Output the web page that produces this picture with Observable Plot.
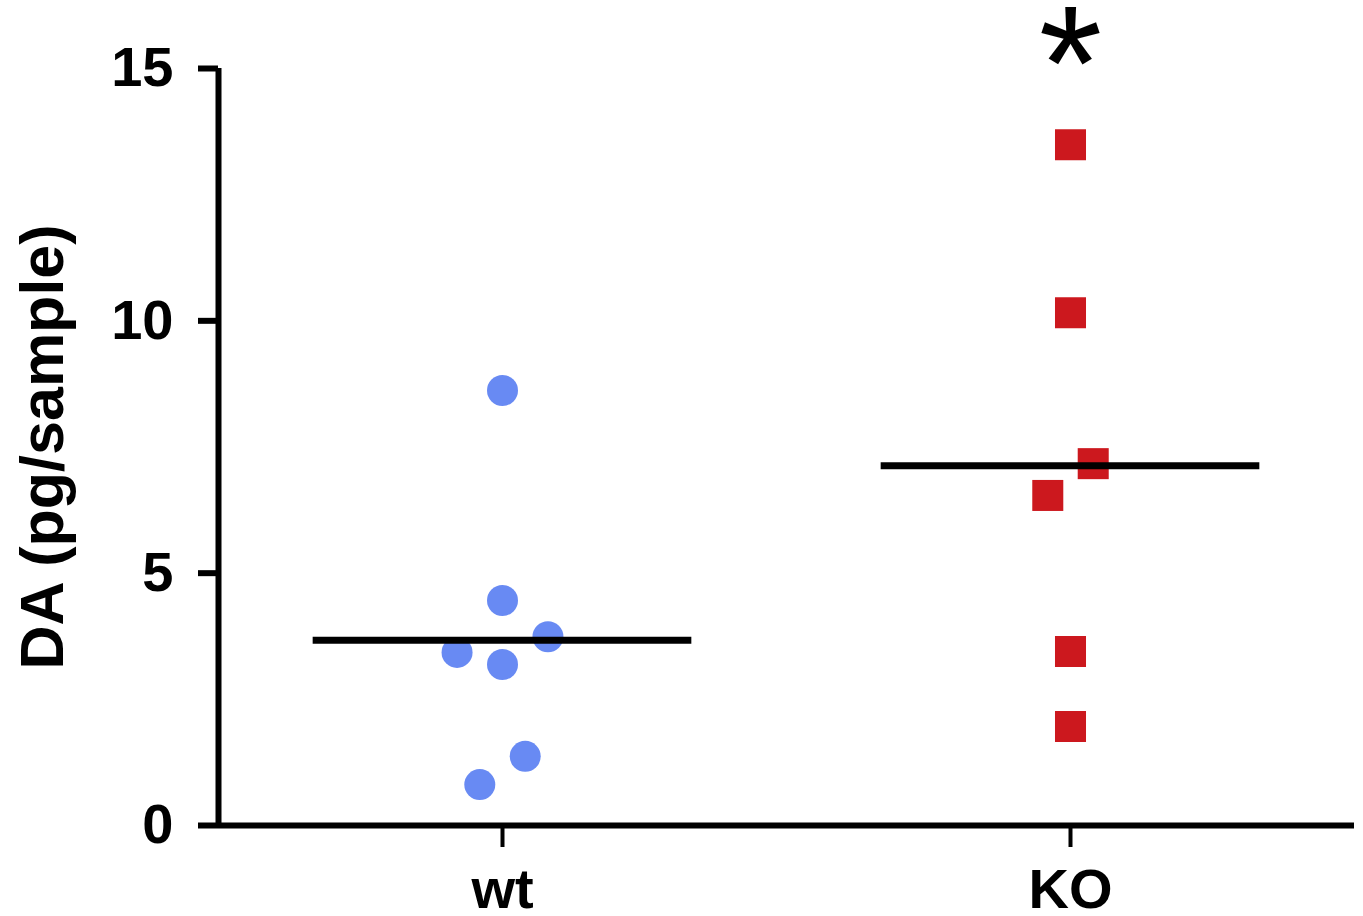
<!DOCTYPE html>
<html>
<head>
<meta charset="utf-8">
<script src="https://cdn.jsdelivr.net/npm/d3@7"></script>
<script src="https://cdn.jsdelivr.net/npm/@observablehq/plot@0.6"></script>
<style>
  html, body { margin: 0; padding: 0; background: #fff; }
</style>
</head>
<body>
<div id="chart"></div>
<script>
// ---- data ----
const groups = ["wt", "KO"];
const groupPos = [1, 2];
const wtValues = [8.62, 4.46, 3.74, 3.43, 3.19, 1.37, 0.81];
const wtJitter = [0, 0, 0.08, -0.08, 0, 0.04, -0.04];
const koValues = [13.49, 10.16, 7.17, 6.54, 3.45, 1.96];
const koJitter = [0, 0, 0.04, -0.04, 0, 0];
const means = [3.67, 7.13];
const yTicks = [0, 5, 10, 15];
const yLabel = "DA (pg/sample)";
const sigMark = "*";

const wtData = wtValues.map((v, i) => ({x: groupPos[0] + wtJitter[i], y: v}));
const koData = koValues.map((v, i) => ({x: groupPos[1] + koJitter[i], y: v}));
const meanData = means.map((m, i) => ({x1: groupPos[i] - 1/3, x2: groupPos[i] + 1/3, y: m}));

const font = "'Liberation Sans', Arial, Helvetica, sans-serif";

const chart = Plot.plot({
  width: 1363,
  height: 916,
  marginLeft: 218,
  marginRight: 9,
  marginTop: 68,
  marginBottom: 91,
  style: {fontFamily: font, background: "#fff", overflow: "visible"},
  x: {type: "linear", domain: [0.5, 2.5], axis: null},
  y: {domain: [0, 15], axis: null},
  marks: [
    // axis lines
    Plot.ruleX([0.5], {y1: 0, y2: 15, stroke: "#000", strokeWidth: 6}),
    Plot.ruleY([0], {x1: 0.5, x2: 2.5, stroke: "#000", strokeWidth: 6}),
    // y axis ticks and labels
    Plot.axisY(yTicks, {label: null, tickSize: 20, tickPadding: 25, strokeWidth: 6, stroke: "#000",
      fontSize: 56, fontWeight: "bold", color: "#000", tickFormat: "d"}),
    // x axis ticks and labels
    Plot.axisX(groupPos, {label: null, tickSize: 22, tickPadding: 21, strokeWidth: 4, stroke: "#000",
      fontSize: 56, fontWeight: "bold", color: "#000",
      tickFormat: (d) => groups[groupPos.indexOf(d)]}),
    // y axis title
    Plot.text([yLabel], {frameAnchor: "left", textAnchor: "middle", dx: -175, rotate: -90,
      fontSize: 61, fontWeight: "bold", fill: "#000"}),
    // points
    Plot.dot(wtData, {x: "x", y: "y", r: 15.5, fill: "#688af3", stroke: null, symbol: "circle"}),
    Plot.dot(koData, {x: "x", y: "y", r: 17.5, fill: "#cc181e", stroke: null, symbol: "square"}),
    // mean lines
    Plot.ruleY(meanData, {x1: "x1", x2: "x2", y: "y", stroke: "#000", strokeWidth: 7}),
    // significance asterisk
    Plot.text([sigMark], {x: [groupPos[1]], frameAnchor: "top", dy: -64, fontSize: 163, fill: "#000"})
  ]
});
document.getElementById("chart").appendChild(chart);
</script>
</body>
</html>
